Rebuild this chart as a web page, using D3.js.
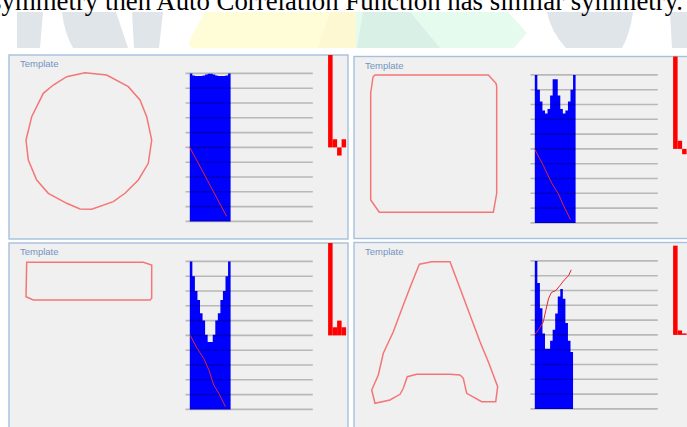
<!DOCTYPE html>
<html>
<head>
<meta charset="utf-8">
<script src="https://cdnjs.cloudflare.com/ajax/libs/d3/7.8.5/d3.min.js"></script>
<style>
  body { margin: 0; background: #fff; }
  svg { display: block; }
</style>
</head>
<body>
<div id="chart"></div>
<script>
// caption line above the figure (cut by the crop)
var captionText = "symmetry then Auto Correlation Function has similar symmetry.";
var panelLabel = "Template";

// template outlines, [x, y] in template units
var circleShape = [[61,2.7],[82.7,5],[104.3,16.7],[116,30],[122.7,46.7],[127.7,70],[124.3,93.3],
  [114.3,110],[101,123.3],[89.3,131.7],[67.7,139.3],[56,139],[42.7,133.3],[24.3,123.3],
  [12.7,110],[4.3,90],[2,70],[7.7,46.7],[19.3,23.3],[29.3,15],[42.7,6.7]];
var squareShape = [[6,3.5],[119.3,3.5],[127,11.8],[127.7,15.2],[127.7,121.5],[126.7,127.5],
  [124.3,140.8],[10.3,140.8],[1.7,128.5],[1.7,21.5],[4,5.5]];
var rectShape = [[2.7,4.3],[119.3,4.3],[127.7,7],[127.7,40.3],[126,42],[9.3,42],[2,38.7]];
var letterAShape = [[50.3,6.8],[62.7,4.2],[81,4.2],[91,30.8],[101,57.5],[111,84.2],[119.3,104.2],
  [124.3,117.5],[128.7,129.2],[126.7,144.2],[112.7,144.2],[97.7,135.8],[94.3,120.8],[91,117.5],
  [81,116.8],[47.7,116.8],[38.3,119.2],[34.3,130.8],[31,136.8],[21,142.5],[6,145.8],[2.7,132.5],
  [9.3,117.5],[14.3,95.8],[24.3,74.2],[34.3,47.5],[42.7,25.8]];

// blue columns, grid units 0..10
var circleBars = [10, 9.86, 9.83, 9.82, 9.83, 9.86, 9.93, 9.98, 9.98, 9.93, 9.86, 9.83, 9.82, 9.83, 9.86, 10];
var squareBars = [10, 9.0, 8.2, 7.6, 7.4, 7.7, 8.6, 9.7, 9.7, 8.6, 7.7, 7.4, 7.6, 8.2, 9.0, 10];
var rectBars = [10, 9.0, 8.0, 7.4, 6.5, 6.0, 5.05, 4.55, 4.55, 5.05, 6.0, 6.5, 7.4, 8.0, 9.0, 10];
var letterABars = [10, 8.5, 6.8, 5.1, 4.07, 4.07, 4.6, 5.35, 6.45, 7.6, 8.1, 7.45, 5.8, 4.6, 3.85];

// red curve over the columns: [column, value]
var circleLine = [[0,5.0],[7,2.75],[14.4,0.35]];
var squareLine = [[0,4.97],[3.3,3.89],[6.6,2.7],[9.2,1.98],[11.2,1.19],[14.0,0.22]];
var rectLine = [[0.2,5.0],[2.9,4.11],[5.5,3.44],[7.5,2.65],[9.4,1.64],[11.4,1.08],[14.0,0.18]];
var letterALine = [[0,5.03],[1.7,5.41],[3.3,5.86],[4.3,6.64],[5.35,7.43],[6.5,7.87],[8.2,7.99],
  [9.8,8.32],[11.5,8.7],[13.2,8.99],[14.3,9.4]];

// auto correlation bars, grid units from the middle line
var circleAcf = [6.3, 0.55, -0.55, 0.55];
var squareAcf = [6.3, 0.55, -0.36];
var rectAcf = [6.3, 0.55, 1.0, 0.55];
var letterAAcf = [6.03, 0.3, 0.1];

var gridTicks = [0, 1, 2, 3, 4, 5, 6, 7, 8, 9, 10];
var acfBase = 5;

var panels = [
  { x: 9,   y: 55,    w: 339, h: 184, shape: circleShape,  bars: circleBars,  line: circleLine,  acf: circleAcf },
  { x: 354, y: 56.5,  w: 345, h: 182, shape: squareShape,  bars: squareBars,  line: squareLine,  acf: squareAcf },
  { x: 9,   y: 243,   w: 339, h: 200, shape: rectShape,    bars: rectBars,    line: rectLine,    acf: rectAcf },
  { x: 354, y: 242.5, w: 345, h: 200, shape: letterAShape, bars: letterABars, line: letterALine, acf: letterAAcf }
];

var width = 687, height = 427;

var svg = d3.select("#chart")
  .append("svg")
    .attr("width", width)
    .attr("height", height);

// faint logo watermark behind the figure
var wm = svg.append("g");
var wmShapes = [
  { c: "#dfe5e9", d: "M17,12 L43,12 L40,48 L17,48 Z" },
  { c: "#dfe5e9", d: "M62,12 L163,12 L159,48 L73,48 Q64,32 62,12 Z" },
  { c: "#ffffff", d: "M116,12 L132,12 L134,48 L128,48 Z" },
  { c: "#fffcd8", d: "M205,12 L356,12 L356,48 L192,48 L188,43 Z" },
  { c: "#fdf7d2", d: "M330,12 L356,12 L356,48 L318,48 Z" },
  { c: "#e4fbed", d: "M356,12 L508,12 L527,33 L514,48 L356,48 Z" },
  { c: "#d8f0e5", d: "M363,12 L410,12 L440,48 L357,48 Z" },
  { c: "#dfe5e9", d: "M547,12 L633,12 Q630,34 622,48 L566,48 Q551,32 547,12 Z" },
  { c: "#dfe5e9", d: "M670,12 L687,12 L687,48 L672,48 Z" }
];
wm.selectAll("path")
  .data(wmShapes)
  .enter()
  .append("path")
    .attr("d", function (d) { return d.d; })
    .attr("fill", function (d) { return d.c; });

svg.append("text")
  .attr("x", 683)
  .attr("y", 9.5)
  .attr("text-anchor", "end")
  .attr("font-family", "'Liberation Serif', 'Times New Roman', serif")
  .attr("font-size", "26.8px")
  .attr("fill", "#000")
  .text(captionText);

var redLine = d3.line()
  .x(function (d) { return d[0]; })
  .y(function (d) { return d[1]; });

panels.forEach(function (p, k) {
  var clipId = "clip" + k;
  svg.append("clipPath")
    .attr("id", clipId)
    .append("rect")
      .attr("x", p.x).attr("y", p.y)
      .attr("width", p.w).attr("height", p.h);

  var g = svg.append("g");

  g.append("rect")
    .attr("x", p.x).attr("y", p.y)
    .attr("width", p.w).attr("height", p.h)
    .attr("fill", "#f0f0f0")
    .attr("stroke", "#a6c1dc")
    .attr("stroke-width", 1.4);

  var inner = g.append("g").attr("clip-path", "url(#" + clipId + ")");

  inner.append("text")
    .attr("x", p.x + 11)
    .attr("y", p.y + 12)
    .attr("font-family", "'Liberation Sans', Arial, sans-serif")
    .attr("font-size", "9.5px")
    .attr("fill", "#7294bf")
    .text(panelLabel);

  // template outline
  var tx = d3.scaleLinear().domain([0, 130]).range([p.x + 15, p.x + 145]);
  var ty = d3.scaleLinear().domain([0, 150]).range([p.y + 15, p.y + 165]);
  inner.append("path")
    .datum(p.shape)
    .attr("d", d3.line()
      .x(function (d) { return tx(d[0]); })
      .y(function (d) { return ty(d[1]); })
      .curve(d3.curveLinearClosed))
    .attr("fill", "none")
    .attr("stroke", "#f47676")
    .attr("stroke-width", 1.5);

  // columns + grid
  var left = p.x + 180.8;
  var top = p.y + 18.4;
  var x = d3.scaleLinear().domain([0, 1]).range([left, left + 2.55]);
  var y = d3.scaleLinear().domain([0, 10]).range([top + 148, top]);

  var area = d3.area()
    .curve(d3.curveStepAfter)
    .x(function (d, i) { return x(i); })
    .y0(y(0))
    .y1(function (d) { return y(d); });

  inner.append("path")
    .datum(p.bars.concat([p.bars[p.bars.length - 1]]))
    .attr("d", area)
    .attr("fill", "#0000ff");

  inner.selectAll("line.grid")
    .data(gridTicks)
    .enter()
    .append("line")
      .attr("class", "grid")
      .attr("x1", left - 4.3)
      .attr("x2", left + 123)
      .attr("y1", function (d) { return y(d); })
      .attr("y2", function (d) { return y(d); })
      .attr("stroke", "#000")
      .attr("stroke-opacity", 0.23)
      .attr("stroke-width", 1.6);

  inner.append("path")
    .datum(p.line.map(function (d) { return [x(d[0]), y(d[1])]; }))
    .attr("d", redLine)
    .attr("fill", "none")
    .attr("stroke", "#e5262e")
    .attr("stroke-width", 1);

  // auto correlation bars
  var ax = d3.scaleLinear().domain([0, 1]).range([left + 138.3, left + 142.8]);
  inner.selectAll("rect.acf")
    .data(p.acf)
    .enter()
    .append("rect")
      .attr("class", "acf")
      .attr("x", function (d, i) { return ax(i); })
      .attr("width", ax(1) - ax(0))
      .attr("y", function (d) { return Math.min(y(acfBase + d), y(acfBase)); })
      .attr("height", function (d) { return Math.abs(y(acfBase) - y(acfBase + d)); })
      .attr("fill", "#ff0000");
});
</script>
</body>
</html>
